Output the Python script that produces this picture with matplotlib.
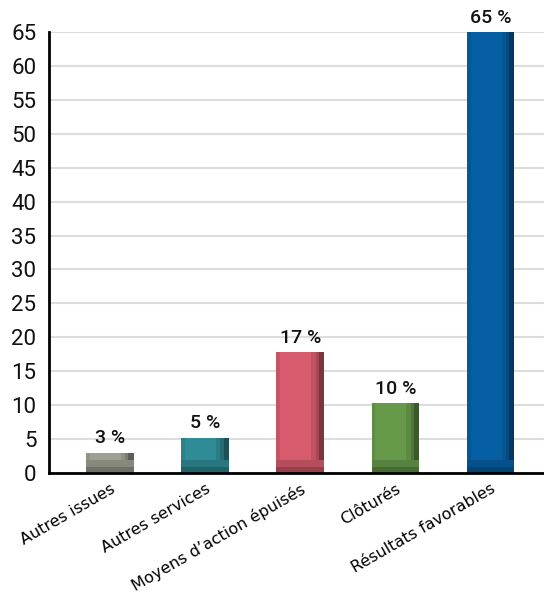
import matplotlib
matplotlib.use("Agg")
import matplotlib.pyplot as plt
import matplotlib.colors as mcolors

categories = ["Autres issues", "Autres services", "Moyens d\u2019action épuisés", "Clôturés", "Résultats favorables"]
values = [3.0, 5.2, 17.8, 10.3, 65.0]
labels = ["3 %", "5 %", "17 %", "10 %", "65 %"]
colors = ["#9ea191", "#2f8b95", "#d65b6c", "#67994a", "#075fa3"]
yticks = list(range(0, 70, 5))

def darker(c, f):
    r, g, b = mcolors.to_rgb(c)
    return (r * f, g * f, b * f)

fig = plt.figure(figsize=(5.44, 5.97), dpi=100)
ax = fig.add_axes([0.090, 0.2077, 0.910, 0.7387])

x = list(range(len(categories)))
w = 0.5
ax.bar(x, values, width=w, color=colors, zorder=2)
# shading: darker right edge and bottom band
for i, v in enumerate(values):
    c = colors[i]
    ax.bar(i + w * 0.28, v, width=w * 0.1, color=darker(c, 0.9), zorder=3)
    ax.bar(i + w * 0.37, v, width=w * 0.1, color=darker(c, 0.78), zorder=3)
    ax.bar(i + w * 0.445, v, width=w * 0.11, color=darker(c, 0.58), zorder=3)
    ax.bar(i - w * 0.46, v, width=w * 0.08, color=darker(c, 0.92), zorder=3)
    ax.bar(i, 1.9, width=w, color=darker(c, 0.85), zorder=4)
    ax.bar(i, 0.9, width=w, color=darker(c, 0.7), zorder=4)
    ax.text(i, v + 0.8, labels[i], ha="center", va="bottom", fontsize=14,
            family="Roboto", weight="medium", color="#111111")

ax.set_xlim(-0.64, 4.56)
ax.set_ylim(0, 65)
ax.set_yticks(yticks)
ax.set_yticklabels([str(t) for t in yticks], family="Roboto", fontsize=16, color="#111111")
ax.set_xticks(x)
ax.set_xticklabels(categories, rotation=30, ha="right", rotation_mode="anchor",
                   family="DejaVu Sans", fontsize=11.5)
ax.tick_params(length=0)
ax.tick_params(axis="y", pad=9)
ax.tick_params(axis="x", pad=6)
ax.grid(axis="y", color="#dddddd", linewidth=1.5, zorder=0)
ax.set_axisbelow(True)
for s in ["top", "right"]:
    ax.spines[s].set_visible(False)
ax.spines["left"].set_linewidth(2)
ax.spines["bottom"].set_linewidth(2)
ax.spines["left"].set_zorder(5)
ax.spines["bottom"].set_zorder(5)

fig.savefig("out.png", dpi=100)
